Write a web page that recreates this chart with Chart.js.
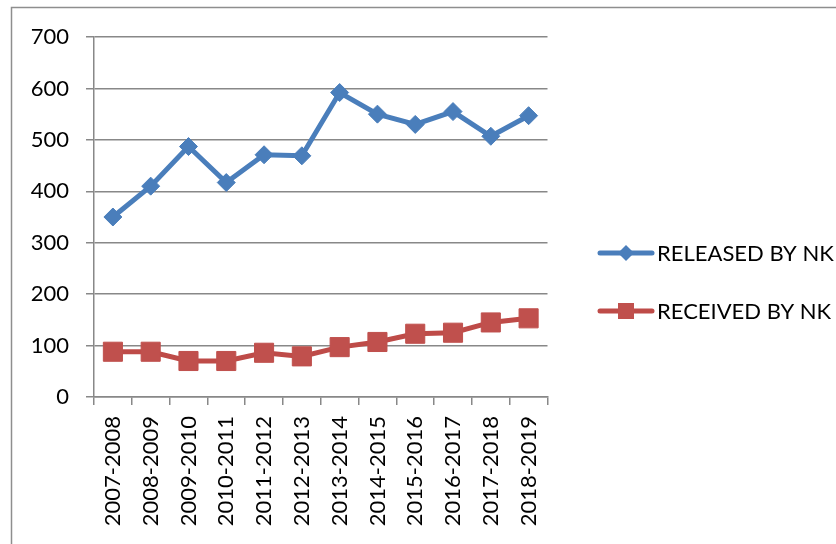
<!DOCTYPE html>
<html>
<head>
<meta charset="utf-8">
<script src="https://cdn.jsdelivr.net/npm/chart.js@4.4.0/dist/chart.umd.min.js"></script>
<style>
  html, body { margin: 0; padding: 0; background: #fff; }
  #wrap { width: 836px; height: 544px; }
</style>
</head>
<body>
<div id="wrap"><canvas id="myChart" width="836" height="544"></canvas></div>
<script>
const periodos = ['2007-2008', '2008-2009', '2009-2010', '2010-2011', '2011-2012', '2012-2013',
  '2013-2014', '2014-2015', '2015-2016', '2016-2017', '2017-2018', '2018-2019'];
const released = [350, 410, 487, 417, 471, 469, 592, 550, 530, 555, 507, 547];
const received = [88, 88, 70, 70, 86, 79, 97, 107, 123, 125, 145, 153];
const yTicks = [0, 100, 200, 300, 400, 500, 600, 700];

const FONT = 'Lato, "Open Sans", sans-serif';
const gris = '#888888';

// marco exterior y leyenda a la derecha
const extras = {
  id: 'extras',
  beforeDraw(chart) {
    const c = chart.ctx;
    c.save();
    c.strokeStyle = '#8e8e8e';
    c.lineWidth = 1.5;
    c.strokeRect(11.5, 7.5, 1000, 1000);
    c.restore();
  },
  afterDraw(chart) {
    const c = chart.ctx;
    const rows = [253, 311];
    chart.data.datasets.forEach((ds, i) => {
      const y = rows[i];
      c.save();
      c.strokeStyle = ds.borderColor;
      c.lineWidth = ds.borderWidth;
      c.lineCap = 'round';
      c.beginPath();
      c.moveTo(600, y);
      c.lineTo(652, y);
      c.stroke();
      c.fillStyle = ds.pointBackgroundColor;
      if (ds.pointStyle === 'rectRot') {
        c.beginPath();
        c.moveTo(626, y - 8);
        c.lineTo(634, y);
        c.lineTo(626, y + 8);
        c.lineTo(618, y);
        c.closePath();
        c.fill();
      } else {
        c.fillRect(618, y - 8, 16, 16);
      }
      c.fillStyle = '#000';
      c.font = '22px ' + FONT;
      c.textBaseline = 'middle';
      c.textAlign = 'left';
      c.fillText(ds.label, 657, y + 1);
      c.restore();
    });
  }
};

const ctx = document.getElementById('myChart').getContext('2d');
const myChart = new Chart(ctx, {
  type: 'line',
  data: {
    labels: periodos,
    datasets: [{
      label: 'RELEASED BY NK',
      data: released,
      borderColor: '#4a7ebb',
      backgroundColor: '#4a7ebb',
      pointBackgroundColor: '#4a7ebb',
      pointBorderColor: '#4a7ebb',
      borderWidth: 5,
      pointStyle: 'rectRot',
      pointRadius: 9,
      pointBorderWidth: 1,
      tension: 0
    }, {
      label: 'RECEIVED BY NK',
      data: received,
      borderColor: '#be4b48',
      backgroundColor: '#be4b48',
      pointBackgroundColor: '#c0504d',
      pointBorderColor: '#c0504d',
      borderWidth: 5,
      pointStyle: 'rect',
      pointRadius: 13.5,
      pointBorderWidth: 1,
      tension: 0
    }]
  },
  options: {
    responsive: false,
    animation: false,
    layout: { padding: { top: 37, right: 288.5, bottom: 0, left: 0 } },
    plugins: {
      legend: { display: false },
      tooltip: { enabled: false }
    },
    scales: {
      x: {
        offset: true,
        grid: { drawOnChartArea: false, offset: true, tickLength: 8, color: gris, lineWidth: 1.5 },
        border: { color: gris, width: 1.5 },
        ticks: {
          color: '#000',
          font: { family: FONT, size: 22 },
          minRotation: 90,
          maxRotation: 90,
          padding: 11,
          autoSkip: false
        },
        afterFit(scale) { scale.height = 147; }
      },
      y: {
        min: 0,
        max: 700,
        afterBuildTicks(scale) { scale.ticks = yTicks.map(v => ({ value: v })); },
        grid: { color: gris, lineWidth: 1.5, tickLength: 8 },
        border: { color: gris, width: 1.5 },
        ticks: {
          color: '#000',
          font: { family: FONT, size: 22 },
          padding: 17
        },
        afterFit(scale) { scale.width = 94; }
      }
    }
  },
  plugins: [extras]
});
</script>
</body>
</html>
